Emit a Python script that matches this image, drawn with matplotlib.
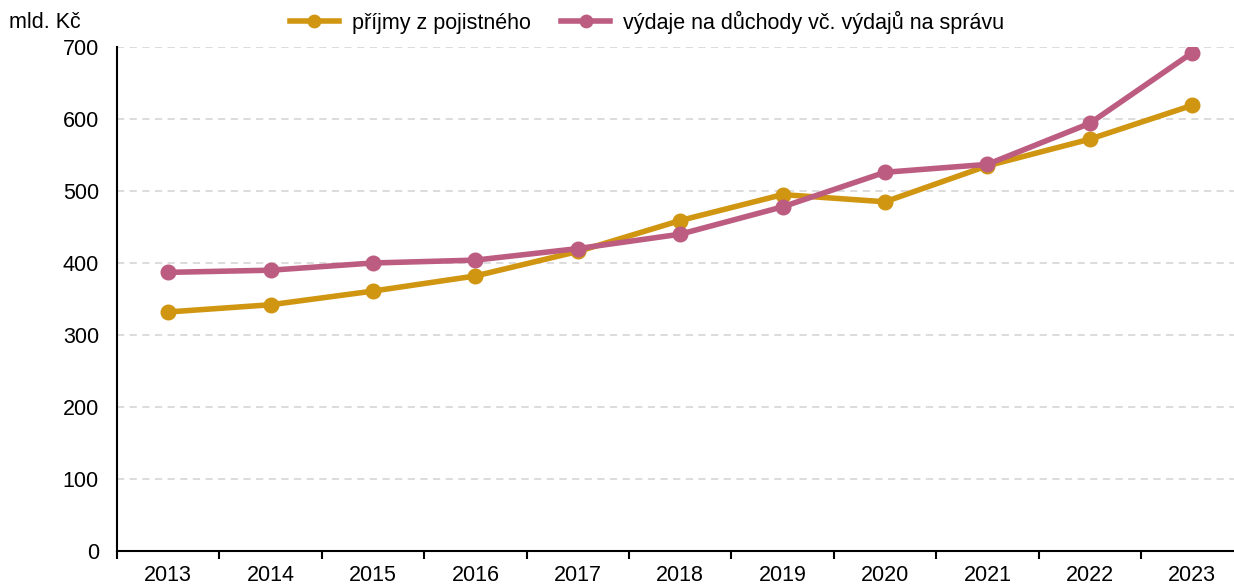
import matplotlib
matplotlib.use("Agg")
import matplotlib.pyplot as plt
from matplotlib.ticker import FixedLocator

years = [2013, 2014, 2015, 2016, 2017, 2018, 2019, 2020, 2021, 2022, 2023]
prijmy = [332, 342, 361, 382, 416, 459, 495, 485, 535, 572, 619]
vydaje = [387, 390, 400, 404, 420, 440, 478, 526, 537, 594, 692]
yticks = [0, 100, 200, 300, 400, 500, 600, 700]
label_prijmy = "příjmy z pojistného"
label_vydaje = "výdaje na důchody vč. výdajů na správu"
unit_label = "mld. Kč"

plt.rcParams['font.family'] = ['Liberation Sans', 'DejaVu Sans']

W, H = 1234, 585
fig = plt.figure(figsize=(W / 100, H / 100), dpi=100)
left, right, bottom, top = 117, 1234, 551, 47
ax = fig.add_axes([left / W, 1 - bottom / H, (right - left) / W, (bottom - top) / H])

c_y = '#D09612'
c_p = '#BC5C80'
ax.plot(years, prijmy, color=c_y, lw=4, marker='o', ms=10.5, label=label_prijmy, zorder=3)
ax.plot(years, vydaje, color=c_p, lw=4, marker='o', ms=10.5, label=label_vydaje, zorder=4)

step = 102.4
ax.set_xlim(2012.5, 2012.5 + (right - left) / step)
ax.set_ylim(0, 700)
ax.set_yticks(yticks)
ax.yaxis.grid(True, color='#d9d9d9', ls=(0, (4, 3)), lw=1.3)
ax.set_axisbelow(True)

fs = 15.5
ax.set_xticks(years)
ax.xaxis.set_minor_locator(FixedLocator([y - 0.5 for y in years]))
ax.tick_params(axis='x', which='major', length=0, labelsize=fs, pad=10)
ax.tick_params(axis='x', which='minor', length=6, width=1.5, direction='out')
ax.tick_params(axis='y', length=0, labelsize=fs, pad=13)

for s in ['top', 'right']:
    ax.spines[s].set_visible(False)
ax.spines['left'].set_linewidth(1.5)
ax.spines['bottom'].set_linewidth(1.5)

fig.text(9 / W, 1 - 22 / H, unit_label, fontsize=fs, va='center', ha='left')

fig.legend(loc='center', bbox_to_anchor=(647 / W, 1 - 22 / H), ncol=2, frameon=False,
           fontsize=fs, handlelength=2.3, handletextpad=0.6, columnspacing=1.4,
           markerscale=0.85)

fig.savefig('out.png', dpi=100)
